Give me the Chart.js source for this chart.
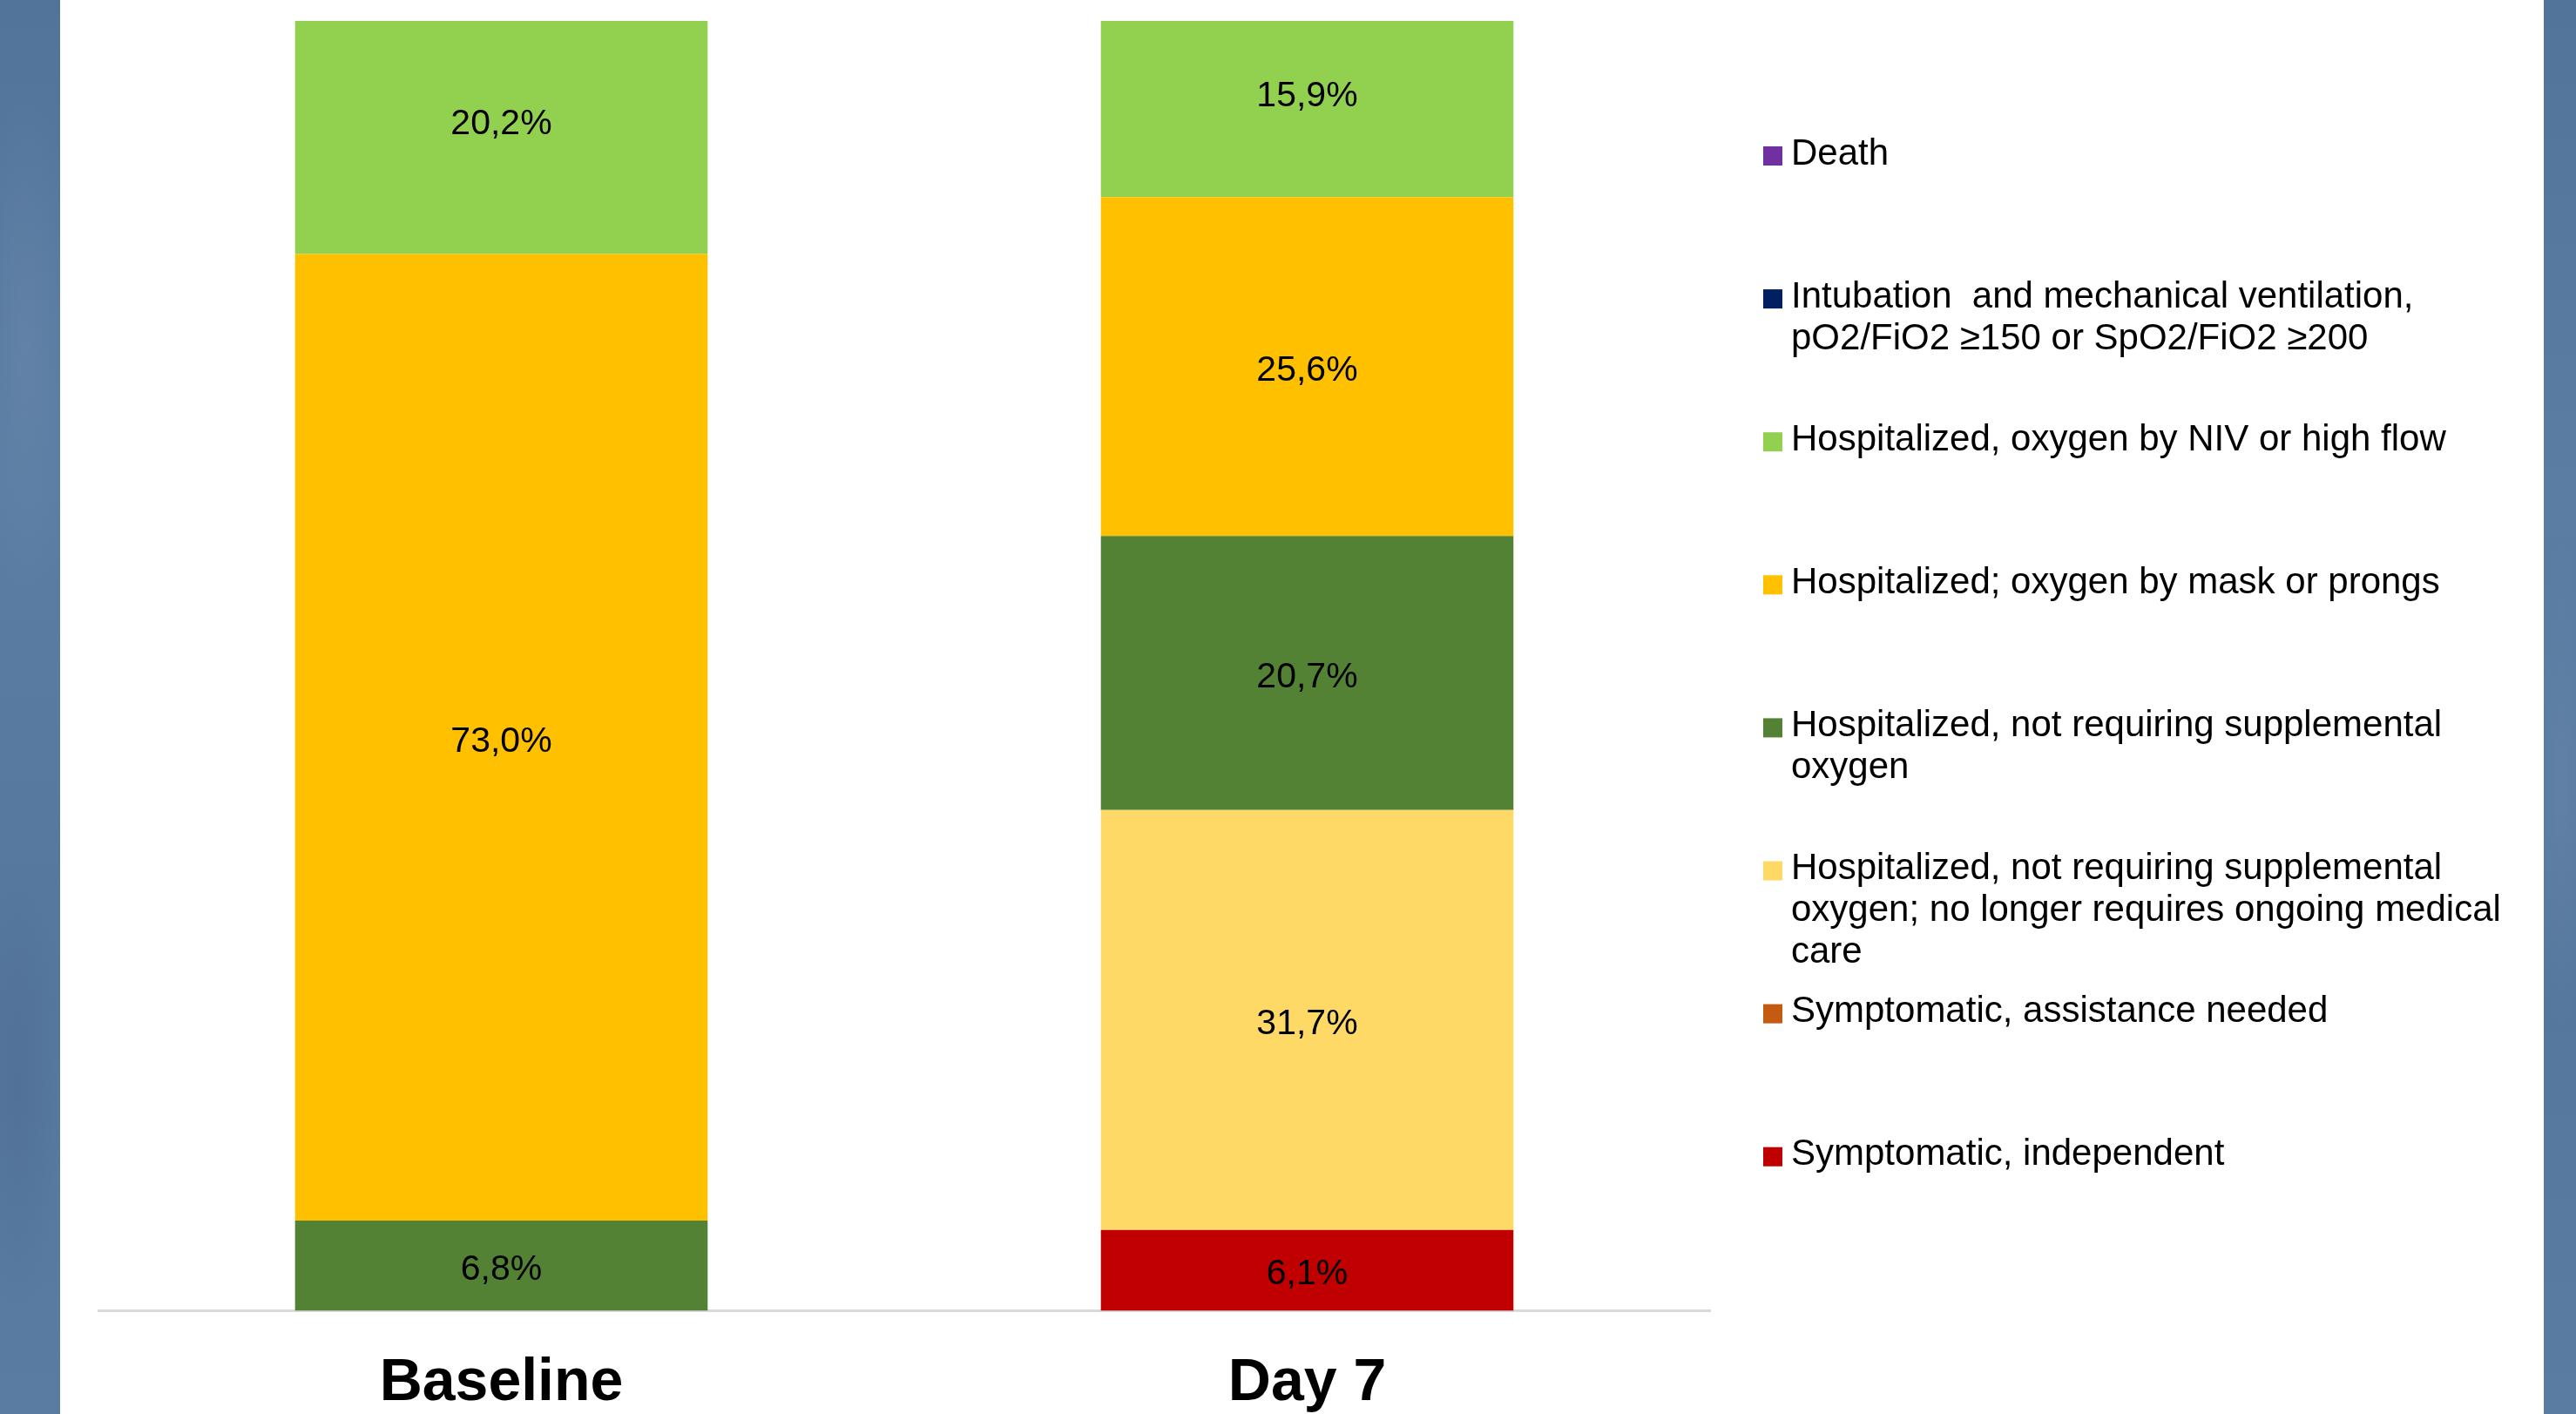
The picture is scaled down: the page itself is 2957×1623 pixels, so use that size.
<!DOCTYPE html>
<html>
<head>
<meta charset="utf-8">
<script src="https://cdn.jsdelivr.net/npm/chart.js@4/dist/chart.umd.min.js"></script>
<style>
  html, body { margin: 0; padding: 0; }
  body {
    width: 2957px; height: 1623px; overflow: hidden; position: relative;
    background:
      radial-gradient(ellipse 60px 300px at 30px 400px, rgba(110,140,175,0.45), rgba(0,0,0,0)),
      radial-gradient(ellipse 50px 260px at 20px 1250px, rgba(70,100,140,0.35), rgba(0,0,0,0)),
      radial-gradient(ellipse 40px 280px at 2940px 900px, rgba(110,140,175,0.4), rgba(0,0,0,0)),
      linear-gradient(180deg, #52739a 0%, #5b7da3 35%, #56779d 70%, #5a7ca2 100%);
  }
  #panel { position: absolute; left: 69px; top: 0; width: 2851px; height: 1623px; background: #ffffff; overflow: hidden; }
  canvas { display: block; }
</style>
</head>
<body>
<div id="panel"><canvas id="chart" width="2851" height="1672"></canvas></div>
<script>
// Time points on the x axis
const categories = ['Baseline', 'Day 7'];

// Ordinal scale categories, from the bottom of the stack to the top
const seriesNames = [
  'Symptomatic, independent',
  'Symptomatic, assistance needed',
  'Hospitalized, not requiring supplemental\noxygen; no longer requires ongoing medical\ncare',
  'Hospitalized, not requiring supplemental\noxygen',
  'Hospitalized; oxygen by mask or prongs',
  'Hospitalized, oxygen by NIV or high flow',
  'Intubation  and mechanical ventilation,\npO2/FiO2 \u2265150 or SpO2/FiO2 \u2265200',
  'Death'
];
const seriesColors = ['#C00000', '#C55A11', '#FFD966', '#548235', '#FFC000', '#92D050', '#002060', '#7030A0'];

// Share of patients (%) per category: [Baseline, Day 7]
const symptomaticIndependent = [0, 6.1];
const symptomaticAssisted    = [0, 0];
const noOngoingCare          = [0, 31.7];
const noSupplementalOxygen   = [6.8, 20.7];
const oxygenMaskProngs       = [73.0, 25.6];
const oxygenNivHighFlow      = [20.2, 15.9];
const intubation             = [0, 0];
const death                  = [0, 0];

const seriesValues = [
  symptomaticIndependent, symptomaticAssisted, noOngoingCare, noSupplementalOxygen,
  oxygenMaskProngs, oxygenNivHighFlow, intubation, death
];

// Upper end of the value axis (the plot area cuts the tallest segments)
const yAxisMax = 97.4;

const FONT = '"Liberation Sans", Arial, Helvetica, sans-serif';

// Percentage labels in the middle of each segment, decimal comma
const segmentLabels = {
  id: 'segmentLabels',
  afterDatasetsDraw(chart) {
    const ctx = chart.ctx;
    ctx.save();
    ctx.font = '41px ' + FONT;
    ctx.fillStyle = '#000000';
    ctx.textAlign = 'center';
    ctx.textBaseline = 'middle';
    chart.data.datasets.forEach((ds, di) => {
      const meta = chart.getDatasetMeta(di);
      meta.data.forEach((bar, i) => {
        const v = ds.data[i];
        if (!v) return;
        const p = bar.getProps(['x', 'y', 'base'], true);
        ctx.fillText(v.toFixed(1).replace('.', ',') + '%', p.x, (p.y + p.base) / 2 + 5);
      });
    });
    ctx.restore();
  }
};

// Legend on the right: one fixed slot per category, top of the stack first
const sideLegend = {
  id: 'sideLegend',
  afterDraw(chart, args, opts) {
    const ctx = chart.ctx;
    const sets = chart.data.datasets;
    ctx.save();
    ctx.font = opts.fontSize + 'px ' + FONT;
    ctx.textAlign = 'left';
    ctx.textBaseline = 'middle';
    for (let k = 0; k < sets.length; k++) {
      const ds = sets[sets.length - 1 - k];
      const y = opts.top + k * opts.step;
      ctx.fillStyle = ds.backgroundColor;
      ctx.fillRect(opts.boxX, y - opts.box / 2 + 2, opts.box, opts.box);
      ctx.fillStyle = '#000000';
      ds.label.split('\n').forEach((line, j) => {
        ctx.fillText(line, opts.textX, y + j * opts.lineHeight);
      });
    }
    ctx.restore();
  }
};

new Chart(document.getElementById('chart'), {
  type: 'bar',
  data: {
    labels: categories,
    datasets: seriesNames.map((name, i) => ({
      label: name,
      data: seriesValues[i],
      backgroundColor: seriesColors[i],
      borderWidth: 0,
      categoryPercentage: 1,
      barPercentage: 0.512
    }))
  },
  options: {
    responsive: false,
    animation: false,
    devicePixelRatio: 1,
    layout: { padding: { left: 44, right: 957, top: 24, bottom: 0 } },
    plugins: {
      legend: { display: false },
      tooltip: { enabled: false },
      sideLegend: { top: 177, step: 164.1, lineHeight: 48, boxX: 1955, textX: 1987, box: 22, fontSize: 42 }
    },
    scales: {
      x: {
        stacked: true,
        grid: { display: false, drawTicks: false },
        border: { display: true, color: '#d9d9d9', width: 3 },
        ticks: { color: '#000000', padding: 43, font: { family: FONT, size: 68, weight: 'bold', lineHeight: 1.2 } }
      },
      y: {
        stacked: true,
        display: false,
        min: 0,
        max: yAxisMax
      }
    }
  },
  plugins: [segmentLabels, sideLegend]
});
</script>
</body>
</html>
